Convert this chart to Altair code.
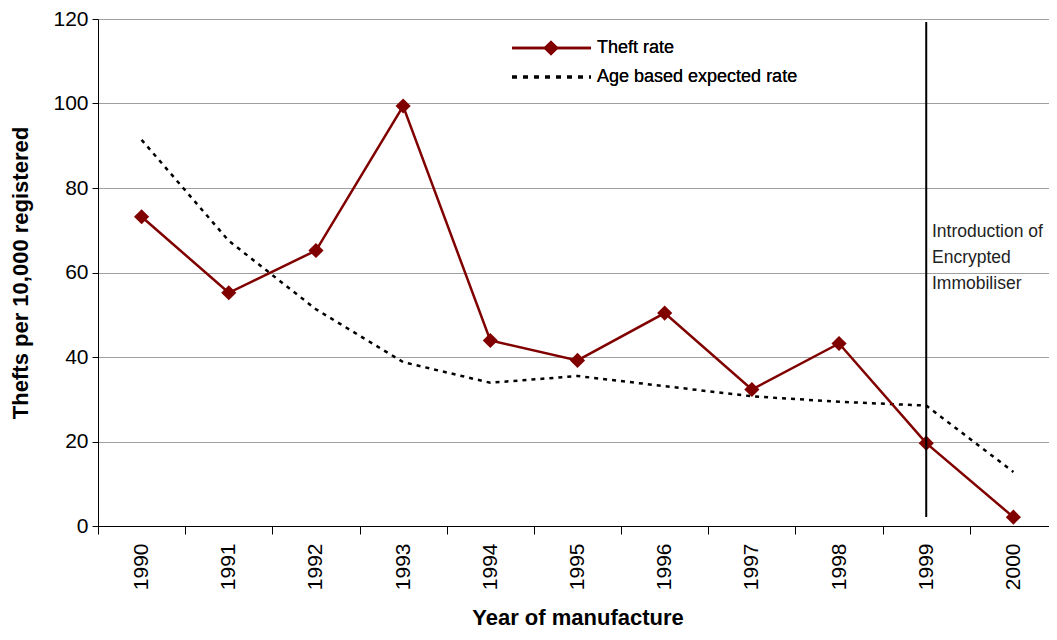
import altair as alt
import pandas as pd

years = ["1990", "1991", "1992", "1993", "1994", "1995", "1996", "1997", "1998", "1999", "2000"]
theft_rate = [73.2, 55.2, 65.2, 99.4, 43.9, 39.2, 50.4, 32.3, 43.2, 19.6, 2.1]
expected_rate = [91.4, 67.5, 51.3, 38.8, 33.9, 35.5, 33.1, 30.7, 29.4, 28.5, 12.8]
series_names = ["Theft rate", "Age based expected rate"]
annotation_year = "1999"
annotation_text = ["Introduction of", "Encrypted", "Immobiliser"]
y_ticks = [0, 20, 40, 60, 80, 100, 120]

FONT = "Liberation Sans"
RED = "#800000"

df = pd.DataFrame({"year": years, "theft": theft_rate, "expected": expected_rate})

xscale = alt.Scale(type="band", domain=years, paddingInner=0, paddingOuter=0)
yscale = alt.Scale(domain=[0, 120], nice=False)

x_enc = alt.X(
    "year:O",
    scale=xscale,
    bandPosition=0.5,
    title="Year of manufacture",
    axis=alt.Axis(
        tickBand="extent",
        labelAngle=-90,
        labelAlign="right",
        labelBaseline="middle",
        labelFontSize=21,
        labelFont=FONT,
        labelColor="black",
        labelPadding=9,
        tickSize=8,
        tickColor="black",
        domainColor="black",
        grid=False,
        titleFont=FONT,
        titleFontSize=22,
        titleFontWeight="bold",
        titleColor="black",
        titlePadding=18,
    ),
)

y_axis = alt.Axis(
    values=y_ticks,
    labelFontSize=21,
    labelFont=FONT,
    labelColor="black",
    labelPadding=4,
    tickSize=6,
    tickColor="black",
    domainColor="black",
    grid=True,
    gridColor="#a0a0a0",
    gridWidth=1,
    titleFont=FONT,
    titleFontSize=22,
    titleFontWeight="bold",
    titleColor="black",
    titlePadding=20,
)

base = alt.Chart(df)

expected_line = base.mark_line(color="black", strokeWidth=2.5, strokeDash=[4, 5]).encode(
    x=x_enc,
    y=alt.Y("expected:Q", scale=yscale, axis=y_axis, title="Thefts per 10,000 registered"),
)

theft_line = base.mark_line(color=RED, strokeWidth=2.5).encode(
    x=x_enc,
    y=alt.Y("theft:Q", scale=yscale),
)

theft_points = base.mark_point(shape="diamond", filled=True, color=RED, size=230, opacity=1).encode(
    x=x_enc,
    y=alt.Y("theft:Q", scale=yscale),
)

rule_df = pd.DataFrame({"year": [annotation_year]})
vrule = alt.Chart(rule_df).mark_rule(color="black", strokeWidth=2).encode(
    x=alt.X("year:O", scale=xscale, bandPosition=0.5),
    y=alt.value(3),
    y2=alt.value(498),
)

annot = alt.Chart(rule_df).mark_text(
    text=annotation_text, align="left", baseline="middle", fontSize=17.5, font=FONT,
    lineHeight=26, color="#222222",
).encode(x=alt.value(834), y=alt.value(213))

# legend (drawn inside the plot, as in the reference)
leg_df = pd.DataFrame({"name": series_names})
leg1_line = alt.Chart(leg_df).mark_rule(color=RED, strokeWidth=2.5).encode(
    x=alt.value(414), x2=alt.value(493), y=alt.value(29))
leg1_pt = alt.Chart(leg_df).mark_point(shape="diamond", filled=True, color=RED, size=230, opacity=1).encode(
    x=alt.value(453), y=alt.value(29))
leg1_txt = alt.Chart(leg_df).mark_text(text=series_names[0], align="left", baseline="middle",
                                       fontSize=18, font=FONT, color="black").encode(
    x=alt.value(499), y=alt.value(29))
leg2_line = alt.Chart(leg_df).mark_rule(color="black", strokeWidth=3, strokeDash=[5, 6]).encode(
    x=alt.value(414), x2=alt.value(493), y=alt.value(58))
leg2_txt = alt.Chart(leg_df).mark_text(text=series_names[1], align="left", baseline="middle",
                                       fontSize=18, font=FONT, color="black").encode(
    x=alt.value(499), y=alt.value(58))

chart = alt.layer(
    expected_line, theft_line, theft_points, vrule, annot,
    leg1_line, leg1_pt, leg1_txt, leg2_line, leg2_txt,
).properties(
    width=959,
    height=507,
    autosize=alt.AutoSizeParams(type="none"),
    padding={"left": 90, "top": 11, "right": -8, "bottom": 106},
).configure_view(stroke=None).configure(background="white")

chart.save("out.html", embed_options={"renderer": "svg", "actions": False})
